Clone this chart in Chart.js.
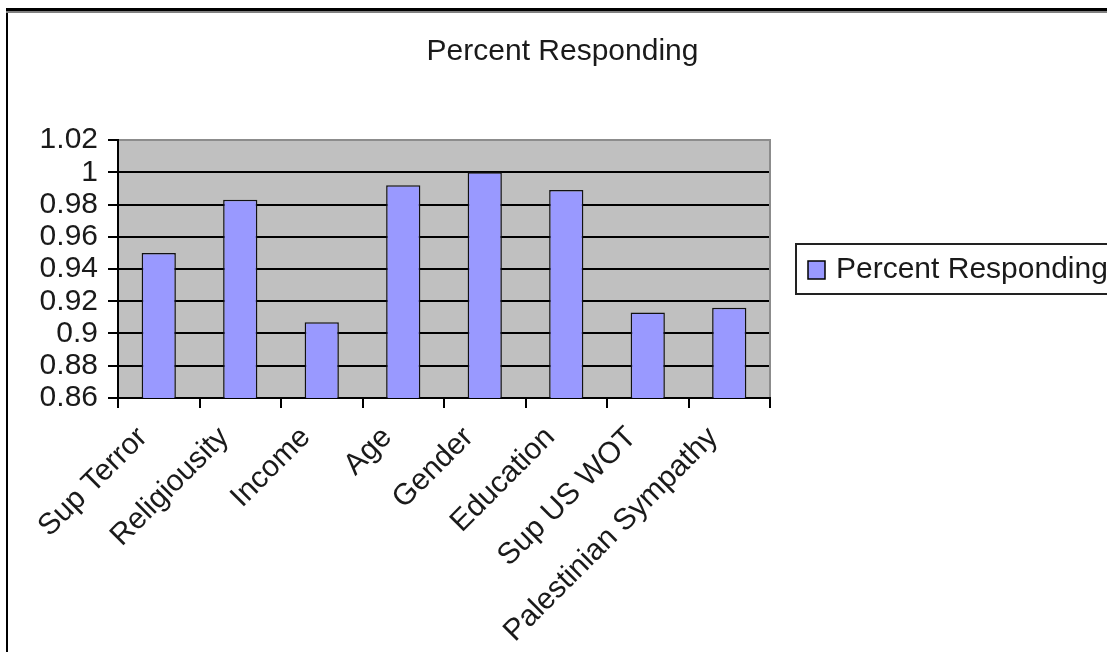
<!DOCTYPE html>
<html>
<head>
<meta charset="utf-8">
<script src="https://cdn.jsdelivr.net/npm/chart.js@4/dist/chart.umd.min.js"></script>
<style>
    body { margin: 0; background: #fff; overflow: hidden; }
    #wrap { position: absolute; left: 0; top: 0; width: 1107px; height: 652px; }
    #frameLeft { position: absolute; left: 6px; top: 8px; width: 2px; height: 700px; background: #000; }
    #frameTop { position: absolute; left: 6px; top: 8px; width: 1200px; height: 3px; background: #000; border-bottom: 2px solid #808080; }
</style>
</head>
<body>
<div id="wrap">
    <canvas id="barChart"></canvas>
</div>
<div id="frameLeft"></div>
<div id="frameTop"></div>
<script>
/*global Chart, document*/
'use strict';

var chartTitle = "Percent Responding";
var categories = ["Sup Terror", "Religiousity", "Income", "Age", "Gender", "Education", "Sup US WOT", "Palestinian Sympathy"];
var percentResponding = [0.950, 0.983, 0.907, 0.992, 1.000, 0.989, 0.913, 0.916];
var yTicks = [0.86, 0.88, 0.9, 0.92, 0.94, 0.96, 0.98, 1, 1.02];

var fontFamily = '"Liberation Sans", Arial, sans-serif';
var fontSize = 30;
var textColor = '#1a1a1a';
var barColor = '#9999ff';

// gray plot area + gray top / right edges
var plotArea = {
    id: 'plotArea',
    beforeDraw: function (chart) {
        var a = chart.chartArea, ctx = chart.ctx;
        ctx.save();
        ctx.fillStyle = '#c0c0c0';
        ctx.fillRect(a.left, a.top, a.right - a.left, a.bottom - a.top);
        ctx.restore();
    },
    afterDraw: function (chart) {
        var a = chart.chartArea, ctx = chart.ctx;
        ctx.save();
        ctx.strokeStyle = '#8c8c8c';
        ctx.lineWidth = 2;
        ctx.beginPath();
        ctx.moveTo(a.left + 1, a.top);
        ctx.lineTo(a.right, a.top);
        ctx.lineTo(a.right, a.bottom - 1);
        ctx.stroke();
        ctx.restore();
    }
};

// title centred on the whole chart frame, not just the plot
var frameTitle = {
    id: 'frameTitle',
    afterDraw: function (chart) {
        var ctx = chart.ctx;
        ctx.save();
        ctx.fillStyle = textColor;
        ctx.font = fontSize + 'px ' + fontFamily;
        ctx.textAlign = 'center';
        ctx.textBaseline = 'alphabetic';
        ctx.fillText(chartTitle, chart.width / 2 + 9, 60);
        ctx.restore();
    }
};

// Excel style legend box to the right of the plot
var boxLegend = {
    id: 'boxLegend',
    afterDraw: function (chart) {
        var a = chart.chartArea, ctx = chart.ctx;
        var ds = chart.data.datasets[0];
        var x = a.right + 26, cy = (a.top + a.bottom) / 2;
        ctx.save();
        ctx.strokeStyle = '#222';
        ctx.lineWidth = 2;
        ctx.strokeRect(x, cy - 25, 400, 50);
        ctx.fillStyle = ds.backgroundColor;
        ctx.fillRect(x + 12, cy - 8, 17, 18);
        ctx.lineWidth = 1.5;
        ctx.strokeStyle = '#000';
        ctx.strokeRect(x + 12, cy - 8, 17, 18);
        ctx.fillStyle = textColor;
        ctx.font = fontSize + 'px ' + fontFamily;
        ctx.textBaseline = 'middle';
        ctx.fillText(ds.label, x + 40, cy + 1);
        ctx.restore();
    }
};

var ctx = document.getElementById('barChart');
var myBarChart = new Chart(ctx, {
    type: 'bar',
    plugins: [plotArea, frameTitle, boxLegend],
    data: {
        labels: categories,
        datasets: [
            {
                label: chartTitle,
                data: percentResponding,
                backgroundColor: barColor,
                borderColor: '#111',
                borderWidth: 1.5,
                borderSkipped: false,
                barPercentage: 0.42,
                categoryPercentage: 1
            }
        ]
    },
    options: {
        responsive: true,
        maintainAspectRatio: false,
        animation: false,
        layout: {
            padding: { left: 0, right: 337, top: 140, bottom: 0 }
        },
        plugins: {
            legend: { display: false },
            tooltip: { enabled: false },
            title: { display: false }
        },
        scales: {
            x: {
                afterFit: function (scale) { scale.height = 254; },
                grid: {
                    offset: true,
                    drawOnChartArea: false,
                    drawTicks: true,
                    tickLength: 10,
                    color: '#000',
                    lineWidth: 2
                },
                border: { display: true, color: '#000', width: 2 },
                ticks: {
                    autoSkip: false,
                    minRotation: 45,
                    maxRotation: 45,
                    padding: 12,
                    labelOffset: -16,
                    color: textColor,
                    font: { family: fontFamily, size: fontSize }
                }
            },
            y: {
                min: 0.86,
                max: 1.02,
                afterFit: function (scale) { scale.width = 118; },
                afterBuildTicks: function (scale) {
                    scale.ticks = yTicks.map(function (v) { return { value: v }; });
                },
                grid: {
                    color: '#000',
                    lineWidth: 2,
                    tickLength: 10
                },
                border: { display: true, color: '#000', width: 2 },
                ticks: {
                    autoSkip: false,
                    padding: 10,
                    color: textColor,
                    font: { family: fontFamily, size: fontSize },
                    callback: function (value) {
                        return String(Number(value.toFixed(2)));
                    }
                }
            }
        }
    }
});
</script>
</body>
</html>
